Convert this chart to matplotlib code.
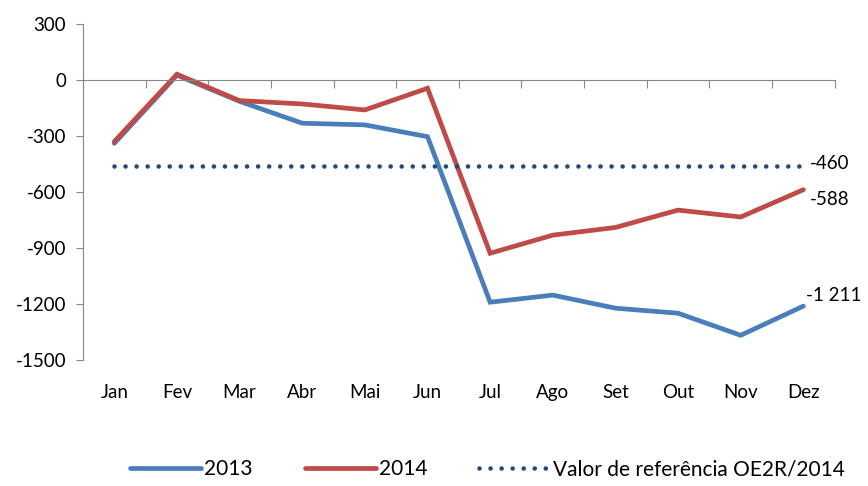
import matplotlib.pyplot as plt
import numpy as np

plt.rcParams['font.family'] = ['Lato', 'DejaVu Sans']

meses = ['Jan', 'Fev', 'Mar', 'Abr', 'Mai', 'Jun', 'Jul', 'Ago', 'Set', 'Out', 'Nov', 'Dez']
v2013 = [-340, 25, -115, -232, -241, -304, -1190, -1152, -1222, -1249, -1367, -1211]
v2014 = [-330, 30, -111, -129, -161, -45, -928, -831, -790, -697, -734, -588]
referencia = [-460] * 12

azul = '#4A7EBB'
vermelho = '#BE4B48'
marinho = '#1F497D'
cinza = '#868686'

fig = plt.figure(figsize=(8.68, 4.86), dpi=100)
ax = fig.add_axes([0.0956, 0.259, 0.866, 0.692])

x = np.arange(len(meses))
ax.plot(x, v2013, color=azul, lw=3.4, solid_capstyle='round', solid_joinstyle='miter', label='2013')
ax.plot(x, v2014, color=vermelho, lw=3.4, solid_capstyle='round', solid_joinstyle='miter', label='2014')
ax.plot(x, referencia, color=marinho, lw=3.3, linestyle=(0, (0.01, 2.4)),
        dash_capstyle='round', label='Valor de refer\u00eancia OE2R/2014')

ax.set_xlim(-0.5, 11.5)
ax.set_ylim(-1500, 300)
ax.set_yticks(np.arange(-1500, 301, 300))
ax.set_yticklabels([str(v) for v in np.arange(-1500, 301, 300)])
ax.tick_params(axis='y', direction='out', length=5, color=cinza, labelsize=13.5, pad=7)

# eixo das categorias cruza em zero
ax.spines['bottom'].set_position(('data', 0))
ax.spines['bottom'].set_color(cinza)
ax.spines['left'].set_color(cinza)
ax.spines['top'].set_visible(False)
ax.spines['right'].set_visible(False)
ax.set_xticks(np.arange(-0.5, 12, 1))
ax.set_xticklabels([])
ax.tick_params(axis='x', direction='out', length=6, color=cinza)

sec = ax.secondary_xaxis(0)
sec.set_xticks(x)
sec.set_xticklabels(meses)
sec.tick_params(length=0, labelsize=13.5, pad=17)
sec.spines['bottom'].set_visible(False)

ax.annotate('-460', (11, referencia[-1]), xytext=(5, 2), textcoords='offset points',
            fontsize=13.5, va='center', ha='left')
ax.annotate('-588', (11, v2014[-1]), xytext=(5, -7), textcoords='offset points',
            fontsize=13.5, va='center', ha='left')
ax.annotate('-1 211', (11, v2013[-1]), xytext=(2, 8), textcoords='offset points',
            fontsize=13.5, va='center', ha='left')

fig.legend(loc='lower center', ncol=3, frameon=False, fontsize=15,
           handlelength=3.4, handletextpad=0.15, columnspacing=2.5,
           bbox_to_anchor=(0.562, -0.025))

fig.savefig('out.png', dpi=100)
